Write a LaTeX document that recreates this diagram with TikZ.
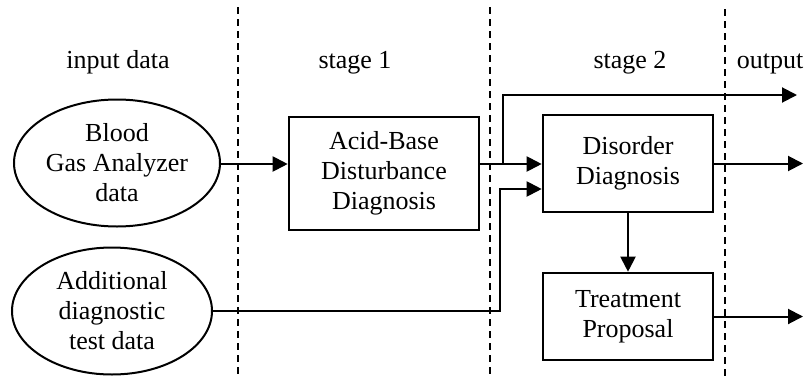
\documentclass[tikz,border=0pt]{standalone}
\usepackage{fontspec}
\setmainfont{Liberation Serif}
\usetikzlibrary{arrows.meta,shapes.geometric}
\tikzset{
  every node/.style={font=\fontsize{26}{30}\selectfont, align=center},
  stagebox/.style={draw, line width=2.6pt, inner sep=0pt},
  datanode/.style={draw, ellipse, line width=2pt, inner sep=0pt},
  wire/.style={line width=2pt, -{Triangle[length=15pt,width=15pt]}},
  divider/.style={line width=1.5pt, dash pattern=on 7pt off 5pt},
  heading/.style={anchor=base}
}
\begin{document}
\begin{tikzpicture}[x=1pt, y=-1pt]
\useasboundingbox (0,0) rectangle (806,378);

% column dividers
\draw[divider] (238,7) -- (238,378);
\draw[divider] (490,7) -- (490,378);
\draw[divider] (725,9) -- (725,378);

% column headings
\node[heading] (h0) at (118,68) {input data};
\node[heading] (h1) at (355,68) {stage 1};
\node[heading] (h2) at (630,68) {stage 2};
\node[heading] (h3) at (770,68) {output};

% input data
\node[datanode, minimum width=206pt, minimum height=127pt] (bga) at (117,163)
  {Blood\\Gas Analyzer\\data};
\node[datanode, minimum width=200pt, minimum height=127pt] (add) at (112,311)
  {Additional\\diagnostic\\test data};

% processing stages
\node[stagebox, minimum width=190pt, minimum height=113pt] (abd) at (384,173.5)
  {Acid-Base\\Disturbance\\Diagnosis};
\node[stagebox, minimum width=170pt, minimum height=97pt] (dd) at (628,163.5)
  {Disorder\\Diagnosis};
\node[stagebox, minimum width=170pt, minimum height=87pt] (tp) at (628,316.5)
  {Treatment\\Proposal};

% junctions and free ends
\coordinate (split) at (503,164);
\coordinate (out0) at (797,95);
\coordinate (rise) at (500,189);
\coordinate (out1) at (803,163.5);
\coordinate (out2) at (803,316.5);

% connectors
\draw[wire] (bga.east |- split) -- (abd.west |- split);
\draw[wire] (abd.east |- split) -- (dd.west |- split);
\draw[wire] (split) |- (out0);
\draw[wire] (add.east) -| (rise) -- (rise -| dd.west);
\draw[wire] (dd.east) -- (out1);
\draw[wire] (dd.south) -- (tp.north);
\draw[wire] (tp.east) -- (out2);
\end{tikzpicture}
\end{document}
